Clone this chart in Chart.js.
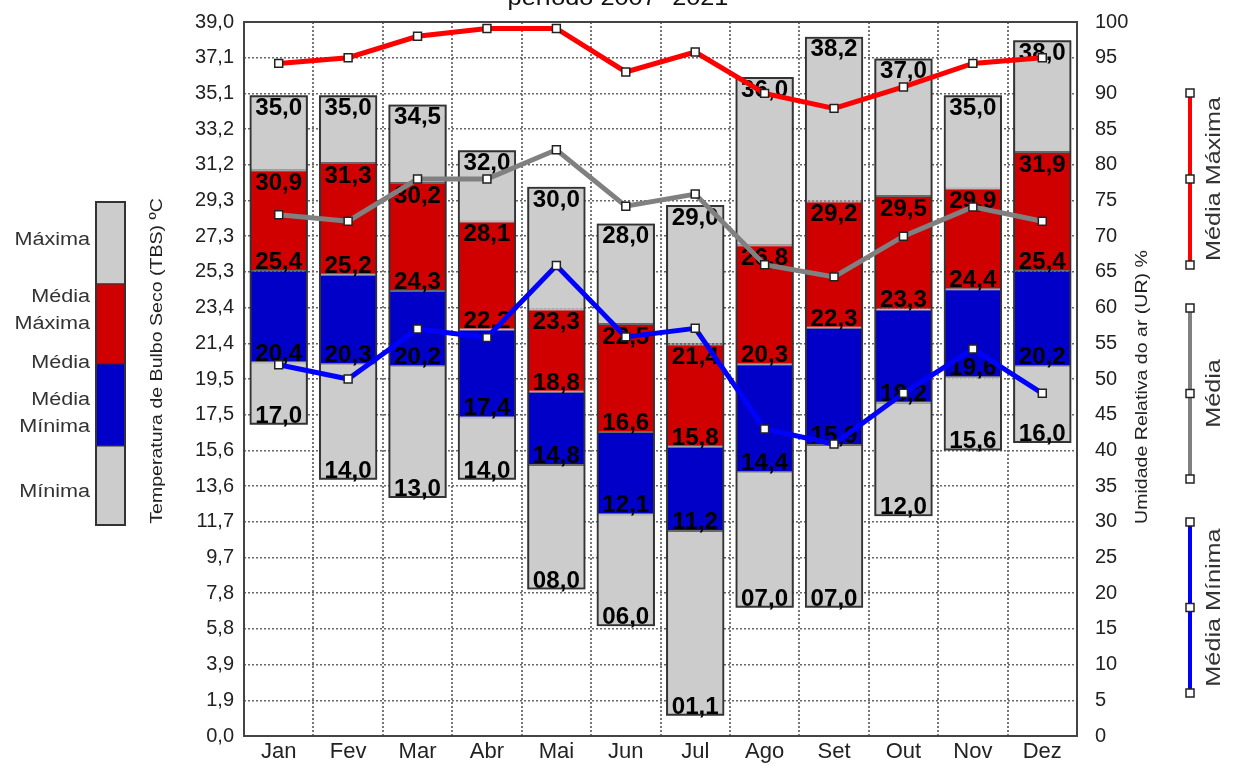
<!DOCTYPE html>
<html>
<head>
<meta charset="utf-8">
<script src="https://cdn.jsdelivr.net/npm/chart.js@4.4.1/dist/chart.umd.min.js"></script>
<style>
  html, body { margin: 0; padding: 0; background: #fff; overflow: hidden; }
</style>
</head>
<body>
<canvas id="chart" width="1233" height="769"></canvas>
<script>
// temperatura (TBS) em ºC
const months = ['Jan', 'Fev', 'Mar', 'Abr', 'Mai', 'Jun', 'Jul', 'Ago', 'Set', 'Out', 'Nov', 'Dez'];
const tMax    = [35.0, 35.0, 34.5, 32.0, 30.0, 28.0, 29.0, 36.0, 38.2, 37.0, 35.0, 38.0];
const tMedMax = [30.9, 31.3, 30.2, 28.1, 23.3, 22.5, 21.4, 26.8, 29.2, 29.5, 29.9, 31.9];
const tMedia  = [25.4, 25.2, 24.3, 22.2, 18.8, 16.6, 15.8, 20.3, 22.3, 23.3, 24.4, 25.4];
const tMedMin = [20.4, 20.3, 20.2, 17.4, 14.8, 12.1, 11.2, 14.4, 15.9, 18.2, 19.6, 20.2];
const tMin    = [17.0, 14.0, 13.0, 14.0, 8.0, 6.0, 1.1, 7.0, 7.0, 12.0, 15.6, 16.0];

// umidade relativa (UR) em %
const urMedMax = [94.2, 95.0, 98.0, 99.1, 99.1, 93.0, 95.8, 90.0, 87.9, 90.9, 94.2, 95.0];
const urMedia  = [73.0, 72.1, 78.0, 78.0, 82.1, 74.2, 75.9, 66.0, 64.3, 70.0, 74.1, 72.1];
const urMedMin = [52.0, 50.0, 57.0, 55.8, 65.9, 55.9, 57.1, 43.0, 40.9, 48.0, 54.2, 48.0];

const tTicks = ['0,0', '1,9', '3,9', '5,8', '7,8', '9,7', '11,7', '13,6', '15,6', '17,5', '19,5',
                '21,4', '23,4', '25,3', '27,3', '29,3', '31,2', '33,2', '35,1', '37,1', '39,0'];

const FONT = '"Liberation Sans", Arial, sans-serif';
const GRAY = '#cccccc', RED = '#d00000', BLUE = '#0000c8', LINE_GRAY = '#808080';

const fmt = v => v.toFixed(1).padStart(4, '0').replace('.', ',');
const range = (a, b) => a.map((v, i) => [v, b[i]]);

function drawText(ctx, text, x, y, o) {
    ctx.save();
    ctx.translate(x, y);
    if (o.rot) ctx.rotate(o.rot);
    ctx.scale(o.sx || 1, 1);
    ctx.font = (o.bold ? 'bold ' : '') + o.size + 'px ' + FONT;
    ctx.textAlign = o.align || 'center';
    ctx.textBaseline = o.base || 'middle';
    ctx.fillStyle = o.color || '#222';
    ctx.fillText(text, 0, 0);
    ctx.restore();
}

function marker(ctx, x, y) {
    ctx.fillStyle = '#fff';
    ctx.strokeStyle = '#222';
    ctx.lineWidth = 1.5;
    ctx.fillRect(x - 4, y - 4, 8, 8);
    ctx.strokeRect(x - 4, y - 4, 8, 8);
}

// fixa a margem vertical da área do gráfico
function fixPad(s) {
    s.paddingTop = 22;
    s.paddingBottom = 10;
}

const extras = {
    id: 'extras',
    beforeDatasetsDraw(chart) {
        const a = chart.chartArea, ctx = chart.ctx;
        ctx.save();
        ctx.strokeStyle = '#444';
        ctx.lineWidth = 2;
        ctx.strokeRect(a.left, a.top, a.right - a.left, a.bottom - a.top);
        ctx.restore();
    },
    afterDatasetDraw(chart, args) {
        // rótulos das barras, desenhados antes das linhas de UR
        if (args.index !== 3) return;
        const ctx = chart.ctx, y = chart.scales.y;
        chart.getDatasetMeta(3).data.forEach((b, i) => {
            const o = { size: 23, bold: true, sx: 1.05, color: '#000' };
            drawText(ctx, fmt(tMax[i]), b.x, y.getPixelForValue(tMax[i]) + 2, { ...o, base: 'top' });
            drawText(ctx, fmt(tMedMax[i]), b.x, y.getPixelForValue(tMedMax[i]) + 2, { ...o, base: 'top' });
            drawText(ctx, fmt(tMedia[i]), b.x, y.getPixelForValue(tMedia[i]) - 2, { ...o, base: 'alphabetic' });
            drawText(ctx, fmt(tMedMin[i]), b.x, y.getPixelForValue(tMedMin[i]) - 2, { ...o, base: 'alphabetic' });
            drawText(ctx, fmt(tMin[i]), b.x, y.getPixelForValue(tMin[i]) - 2, { ...o, base: 'alphabetic' });
        });
    },
    afterDraw(chart) {
        const ctx = chart.ctx;
        ctx.save();
        // título (cortado no topo)
        drawText(ctx, 'período 2007- 2021', 618, 5, { size: 22, sx: 1.15, base: 'alphabetic', color: '#111' });

        // legenda da esquerda
        const bx = 96, bw = 29;
        const segs = [[202, 284, GRAY], [284, 364, RED], [364, 446, BLUE], [446, 525, GRAY]];
        segs.forEach(([t, b, c]) => {
            ctx.fillStyle = c;
            ctx.fillRect(bx, t, bw, b - t);
            ctx.strokeStyle = '#333';
            ctx.lineWidth = 1;
            ctx.strokeRect(bx, t, bw, b - t);
        });
        ctx.lineWidth = 2;
        ctx.strokeRect(bx, 202, bw, 323);
        const lg = { size: 18, sx: 1.2, align: 'right', color: '#333' };
        [['Máxima', 240], ['Média', 297], ['Máxima', 324], ['Média', 363],
         ['Média', 400], ['Mínima', 427], ['Mínima', 492]].forEach(([t, yy]) => drawText(ctx, t, 90, yy, lg));

        // títulos dos eixos
        drawText(ctx, 'Temperatura de Bulbo Seco (TBS) ºC', 157, 361,
                 { size: 17, sx: 1.15, rot: -Math.PI / 2, color: '#222' });
        drawText(ctx, 'Umidade Relativa do ar (UR) %', 1142, 387,
                 { size: 17, sx: 1.15, rot: -Math.PI / 2, color: '#222' });

        // legenda da direita
        const rl = [[93, 265, '#ff0000', 'Média Máxima'], [308, 479, LINE_GRAY, 'Média'], [522, 693, '#0000ff', 'Média Mínima']];
        rl.forEach(([t, b, c, txt]) => {
            ctx.strokeStyle = c;
            ctx.lineWidth = 4;
            ctx.beginPath();
            ctx.moveTo(1190, t);
            ctx.lineTo(1190, b);
            ctx.stroke();
            [t, (t + b) / 2, b].forEach(yy => marker(ctx, 1190, yy));
            drawText(ctx, txt, 1214, (t + b) / 2, { size: 21, sx: 1.2, rot: -Math.PI / 2, color: '#333' });
        });
        ctx.restore();
    }
};

const point = { pointStyle: 'rect', pointRadius: 5.6, pointBackgroundColor: '#fff',
                pointBorderColor: '#222', pointBorderWidth: 1.5, tension: 0, borderWidth: 5,
                yAxisID: 'y1', order: 0, type: 'line', fill: false };
const seg = { yAxisID: 'y', order: 1, grouped: false, barPercentage: 0.84, categoryPercentage: 1,
              borderWidth: 1, borderColor: 'rgba(40,40,40,0.7)', borderSkipped: false };

new Chart(document.getElementById('chart'), {
    type: 'bar',
    data: {
        labels: months,
        datasets: [
            { ...point, label: 'UR Média Máxima', data: urMedMax, borderColor: '#ff0000' },
            { ...point, label: 'UR Média', data: urMedia, borderColor: LINE_GRAY },
            { ...point, label: 'UR Média Mínima', data: urMedMin, borderColor: '#0000ff' },
            { ...seg, label: 'contorno', data: range(tMin, tMax), backgroundColor: 'rgba(0,0,0,0)',
              borderWidth: 2, borderColor: '#333' },
            { ...seg, label: 'Máxima', data: range(tMedMax, tMax), backgroundColor: GRAY },
            { ...seg, label: 'Média Máxima', data: range(tMedia, tMedMax), backgroundColor: RED },
            { ...seg, label: 'Média Mínima', data: range(tMedMin, tMedia), backgroundColor: BLUE },
            { ...seg, label: 'Mínima', data: range(tMin, tMedMin), backgroundColor: GRAY }
        ]
    },
    options: {
        responsive: false,
        devicePixelRatio: 1,
        animation: false,
        layout: { padding: 0 },
        plugins: { legend: { display: false }, tooltip: { enabled: false } },
        scales: {
            x: {
                offset: true,
                grid: { offset: true, color: '#777', lineWidth: 2, drawTicks: false },
                border: { display: false, dash: [2, 2] },
                ticks: { color: '#222', font: { family: FONT, size: 22 }, padding: 3 },
                afterFit: s => { s.height = 33; }
            },
            y: {
                position: 'left',
                min: 0, max: 39,
                ticks: { stepSize: 1.95, padding: 10, color: '#222', font: { family: FONT, size: 20 },
                         callback: (v, i) => tTicks[i] },
                grid: { color: '#666', lineWidth: 1.5, drawTicks: false },
                border: { display: false, dash: [2, 2] },
                afterFit: s => { s.width = 244; fixPad(s); }
            },
            y1: {
                position: 'right',
                min: 0, max: 100,
                ticks: { stepSize: 5, padding: 18, color: '#222', font: { family: FONT, size: 20 } },
                grid: { display: false, drawTicks: false },
                border: { display: false },
                afterFit: s => { s.width = 156; fixPad(s); }
            }
        }
    },
    plugins: [extras]
});
</script>
</body>
</html>
